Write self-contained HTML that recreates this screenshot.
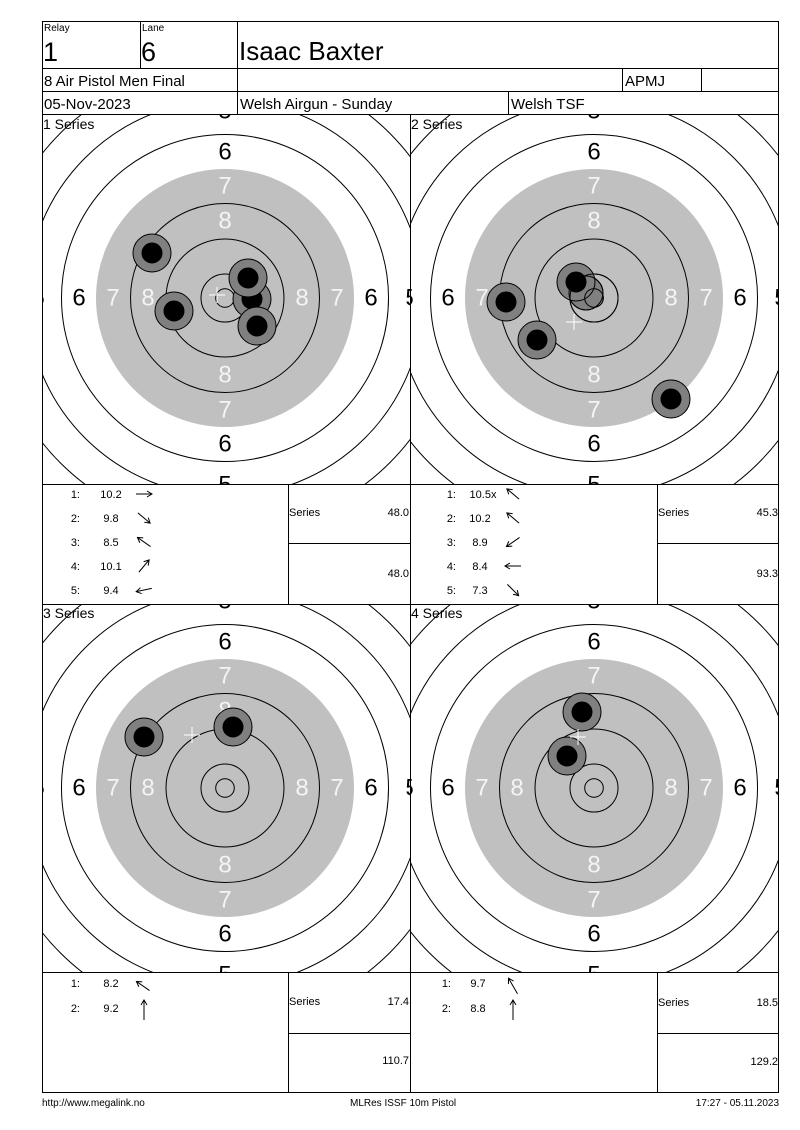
<!DOCTYPE html>
<html><head><meta charset="utf-8"><style>
html,body{margin:0;padding:0;background:#fff;}
svg{display:block;font-family:"Liberation Sans",Arial,sans-serif;}
</style></head><body>
<svg width="800" height="1130" viewBox="0 0 800 1130" xmlns="http://www.w3.org/2000/svg">
<defs>
<clipPath id="c1"><rect x="42" y="114" width="368" height="370"/></clipPath>
<clipPath id="c2"><rect x="410" y="114" width="369" height="370"/></clipPath>
<clipPath id="c3"><rect x="42" y="604" width="368" height="368"/></clipPath>
<clipPath id="c4"><rect x="410" y="604" width="369" height="368"/></clipPath>
</defs>
<rect width="800" height="1130" fill="#fff"/>

<!-- Target 1 -->
<g clip-path="url(#c1)"><g transform="translate(225,298)">
<circle r="129" fill="#c0c0c0"/>
<g fill="none" stroke="#000" stroke-width="1">
<circle r="9.3"/><circle r="24"/><circle r="59"/><circle r="94.5"/><circle r="163.5"/><circle r="198"/><circle r="233"/><circle r="267"/><circle r="302"/></g>
<g font-size="24" text-anchor="middle" dominant-baseline="central">
<text y="-146">6</text><text y="146">6</text><text x="-146">6</text><text x="146">6</text>
<text y="-187">5</text><text y="187">5</text><text x="-187">5</text><text x="187">5</text>
<g fill="#f4f4f4"><text y="-112">7</text><text y="112">7</text><text x="-112">7</text><text x="112">7</text>
<text y="-77">8</text><text y="77">8</text><text x="-77">8</text><text x="77">8</text></g></g>
</g>
<g stroke="#000" stroke-width="1">
<circle cx="152" cy="253" r="19" fill="#808080"/><circle cx="152" cy="253" r="10" fill="#000"/>
<circle cx="174" cy="311" r="19" fill="#808080"/><circle cx="174" cy="311" r="10" fill="#000"/>
<circle cx="252" cy="299" r="19" fill="#808080"/><circle cx="252" cy="299" r="10" fill="#000"/>
<circle cx="248" cy="278" r="19" fill="#808080"/><circle cx="248" cy="278" r="10" fill="#000"/>
<circle cx="257" cy="326" r="19" fill="#808080"/><circle cx="257" cy="326" r="10" fill="#000"/>
</g>
<path d="M209 295H225M217 287V303" stroke="#fff" stroke-width="1"/>
</g>

<!-- Target 2 -->
<g clip-path="url(#c2)"><g transform="translate(594,298)">
<circle r="129" fill="#c0c0c0"/>
<g fill="none" stroke="#000" stroke-width="1">
<circle r="9.3"/><circle r="24"/><circle r="59"/><circle r="94.5"/><circle r="163.5"/><circle r="198"/><circle r="233"/><circle r="267"/><circle r="302"/></g>
<g font-size="24" text-anchor="middle" dominant-baseline="central">
<text y="-146">6</text><text y="146">6</text><text x="-146">6</text><text x="146">6</text>
<text y="-187">5</text><text y="187">5</text><text x="-187">5</text><text x="187">5</text>
<g fill="#f4f4f4"><text y="-112">7</text><text y="112">7</text><text x="-112">7</text><text x="112">7</text>
<text y="-77">8</text><text y="77">8</text><text x="-77">8</text><text x="77">8</text></g></g>
</g>
<g stroke="#000" stroke-width="1">
<circle cx="506" cy="302" r="19" fill="#808080"/><circle cx="506" cy="302" r="10" fill="#000"/>
<circle cx="586" cy="293" r="17" fill="#808080"/>
<circle cx="576" cy="282" r="19" fill="#808080"/><circle cx="576" cy="282" r="10" fill="#000"/>
<circle cx="586" cy="293" r="17" fill="none"/>
<circle cx="594" cy="298" r="9.3" fill="none"/><circle cx="594" cy="298" r="24" fill="none"/>
<circle cx="537" cy="340" r="19" fill="#808080"/><circle cx="537" cy="340" r="10" fill="#000"/>
<circle cx="671" cy="399" r="19" fill="#808080"/><circle cx="671" cy="399" r="10" fill="#000"/>
</g>
<path d="M566 322H582M574 314V330" stroke="#fff" stroke-width="1"/>
</g>

<!-- Target 3 -->
<g clip-path="url(#c3)"><g transform="translate(225,788)">
<circle r="129" fill="#c0c0c0"/>
<g fill="none" stroke="#000" stroke-width="1">
<circle r="9.3"/><circle r="24"/><circle r="59"/><circle r="94.5"/><circle r="163.5"/><circle r="198"/><circle r="233"/><circle r="267"/><circle r="302"/></g>
<g font-size="24" text-anchor="middle" dominant-baseline="central">
<text y="-146">6</text><text y="146">6</text><text x="-146">6</text><text x="146">6</text>
<text y="-187">5</text><text y="187">5</text><text x="-187">5</text><text x="187">5</text>
<g fill="#f4f4f4"><text y="-112">7</text><text y="112">7</text><text x="-112">7</text><text x="112">7</text>
<text y="-77">8</text><text y="77">8</text><text x="-77">8</text><text x="77">8</text></g></g>
</g>
<g stroke="#000" stroke-width="1">
<circle cx="144" cy="737" r="19" fill="#808080"/><circle cx="144" cy="737" r="10" fill="#000"/>
<circle cx="233" cy="727" r="19" fill="#808080"/><circle cx="233" cy="727" r="10" fill="#000"/>
</g>
<path d="M184 735H200M192 727V743" stroke="#fff" stroke-width="1"/>
</g>

<!-- Target 4 -->
<g clip-path="url(#c4)"><g transform="translate(594,788)">
<circle r="129" fill="#c0c0c0"/>
<g fill="none" stroke="#000" stroke-width="1">
<circle r="9.3"/><circle r="24"/><circle r="59"/><circle r="94.5"/><circle r="163.5"/><circle r="198"/><circle r="233"/><circle r="267"/><circle r="302"/></g>
<g font-size="24" text-anchor="middle" dominant-baseline="central">
<text y="-146">6</text><text y="146">6</text><text x="-146">6</text><text x="146">6</text>
<text y="-187">5</text><text y="187">5</text><text x="-187">5</text><text x="187">5</text>
<g fill="#f4f4f4"><text y="-112">7</text><text y="112">7</text><text x="-112">7</text><text x="112">7</text>
<text y="-77">8</text><text y="77">8</text><text x="-77">8</text><text x="77">8</text></g></g>
</g>
<g stroke="#000" stroke-width="1">
<circle cx="582" cy="712" r="19" fill="#808080"/><circle cx="582" cy="712" r="10" fill="#000"/>
<circle cx="567" cy="756" r="19" fill="#808080"/><circle cx="567" cy="756" r="10" fill="#000"/>
</g>
<path d="M570 737H586M578 729V745" stroke="#fff" stroke-width="1"/>
</g>

<!-- Grid lines -->
<g stroke="#000" stroke-width="1" fill="none" shape-rendering="crispEdges">
<rect x="42.5" y="21.5" width="736" height="1071"/>
<path d="M42 68.5H779M42 91.5H779M42 114.5H779M42 484.5H779M42 604.5H779M42 972.5H779"/>
<path d="M140.5 21V68M237.5 21V114M622.5 68V91M701.5 68V91M508.5 91V114"/>
<path d="M410.5 114V1093M288.5 484V604M657.5 484V604M288 543.5H410M657 543.5H779"/>
<path d="M288.5 972V1093M657.5 972V1093M288 1033.5H410M657 1033.5H779"/>
</g>

<!-- Header text -->
<g fill="#000">
<text x="44" y="31" font-size="10">Relay</text>
<text x="142" y="31" font-size="10">Lane</text>
<text x="43" y="61" font-size="27">1</text>
<text x="141" y="61" font-size="27">6</text>
<text x="239" y="60" font-size="26">Isaac Baxter</text>
<text x="44" y="86" font-size="15">8 Air Pistol Men Final</text>
<text x="625" y="86" font-size="15">APMJ</text>
<text x="44" y="109" font-size="15">05-Nov-2023</text>
<text x="240" y="109" font-size="15">Welsh Airgun - Sunday</text>
<text x="511" y="109" font-size="15">Welsh TSF</text>
<g font-size="14"><text x="43" y="129">1 Series</text><text x="411" y="129">2 Series</text>
<text x="43" y="618">3 Series</text><text x="411" y="618">4 Series</text></g>
</g>

<!-- Tables -->
<g font-size="11" fill="#000">
<g text-anchor="end">
<text x="80" y="498">1:</text><text x="80" y="522">2:</text><text x="80" y="546">3:</text><text x="80" y="570">4:</text><text x="80" y="594">5:</text>
<text x="456" y="498">1:</text><text x="456" y="522">2:</text><text x="456" y="546">3:</text><text x="456" y="570">4:</text><text x="456" y="594">5:</text>
<text x="80" y="987">1:</text><text x="80" y="1012">2:</text>
<text x="451" y="987">1:</text><text x="451" y="1012">2:</text>
<text x="409" y="516">48.0</text><text x="409" y="577">48.0</text>
<text x="778" y="516">45.3</text><text x="778" y="577">93.3</text>
<text x="409" y="1005">17.4</text><text x="409" y="1064">110.7</text>
<text x="778" y="1006">18.5</text><text x="778" y="1065">129.2</text>
</g>
<g text-anchor="middle">
<text x="111" y="498">10.2</text><text x="111" y="522">9.8</text><text x="111" y="546">8.5</text><text x="111" y="570">10.1</text><text x="111" y="594">9.4</text>
<text x="483" y="498">10.5x</text><text x="480" y="522">10.2</text><text x="480" y="546">8.9</text><text x="480" y="570">8.4</text><text x="480" y="594">7.3</text>
<text x="111" y="987">8.2</text><text x="111" y="1012">9.2</text>
<text x="478" y="987">9.7</text><text x="478" y="1012">8.8</text>
</g>
<text x="289" y="516">Series</text><text x="658" y="516">Series</text>
<text x="289" y="1005">Series</text><text x="658" y="1006">Series</text>
</g>

<!-- Arrows -->
<g stroke="#000" stroke-width="1" fill="none">
<g transform="translate(144,494) rotate(0)"><path d="M-8 0H8M3 -3L8 0L3 3"/></g>
<g transform="translate(144,518) rotate(40)"><path d="M-8 0H8M3 -3L8 0L3 3"/></g>
<g transform="translate(144,542) rotate(215)"><path d="M-8 0H8M3 -3L8 0L3 3"/></g>
<g transform="translate(144,566) rotate(-50)"><path d="M-8 0H8M3 -3L8 0L3 3"/></g>
<g transform="translate(144,590) rotate(168)"><path d="M-8 0H8M3 -3L8 0L3 3"/></g>
<g transform="translate(513,494) rotate(220)"><path d="M-8 0H8M3 -3L8 0L3 3"/></g>
<g transform="translate(513,518) rotate(220)"><path d="M-8 0H8M3 -3L8 0L3 3"/></g>
<g transform="translate(513,542) rotate(145)"><path d="M-8 0H8M3 -3L8 0L3 3"/></g>
<g transform="translate(513,566) rotate(180)"><path d="M-8 0H8M3 -3L8 0L3 3"/></g>
<g transform="translate(513,590) rotate(45)"><path d="M-8 0H8M3 -3L8 0L3 3"/></g>
<g transform="translate(143,986) rotate(215)"><path d="M-8 0H8M3 -3L8 0L3 3"/></g>
<g transform="translate(144,1010) rotate(270)"><path d="M-10 0H10M5 -3L10 0L5 3"/></g>
<g transform="translate(513,986) rotate(240)"><path d="M-9 0H9M4 -3L9 0L4 3"/></g>
<g transform="translate(513,1010) rotate(270)"><path d="M-10 0H10M5 -3L10 0L5 3"/></g>
</g>

<!-- Footer -->
<g font-size="10" fill="#000">
<text x="42" y="1106">http://www.megalink.no</text>
<text x="350" y="1106">MLRes ISSF 10m Pistol</text>
<text x="779" y="1106" text-anchor="end">17:27 - 05.11.2023</text>
</g>
</svg>
</body></html>
